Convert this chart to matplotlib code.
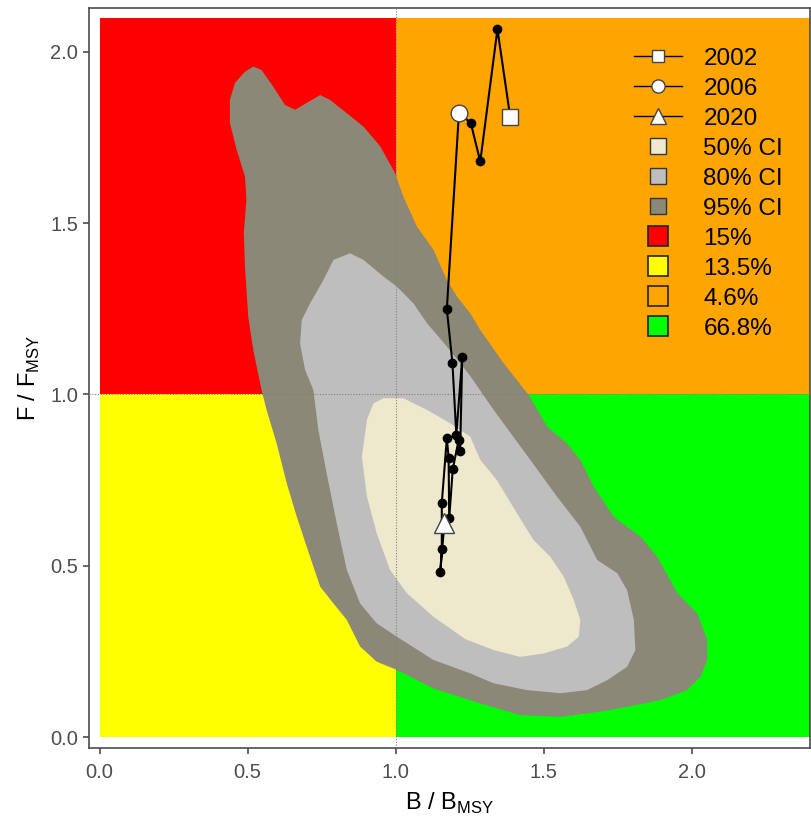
import matplotlib
matplotlib.use("Agg")
import matplotlib.pyplot as plt
from matplotlib.lines import Line2D

plt.rcParams['font.family'] = ['Liberation Sans', 'DejaVu Sans']

# trajectory, 2002-2020
years = list(range(2002, 2021))
b_ratio = [1.387, 1.344, 1.286, 1.254, 1.214, 1.173, 1.192, 1.205, 1.225, 1.218,
           1.213, 1.193, 1.181, 1.179, 1.173, 1.156, 1.156, 1.151, 1.165]
f_ratio = [1.811, 2.066, 1.680, 1.792, 1.823, 1.249, 1.091, 0.882, 1.108, 0.836,
           0.867, 0.782, 0.638, 0.816, 0.872, 0.684, 0.548, 0.483, 0.626]

# confidence region outlines (B/Bmsy, F/Fmsy)
ci95_b = [0.519, 0.547, 0.586, 0.626, 0.660, 0.688, 0.745, 0.778, 0.835, 0.891,
          0.948, 0.998, 1.026, 1.072, 1.128, 1.173, 1.207, 1.252, 1.286, 1.365,
          1.449, 1.512, 1.579, 1.624, 1.669, 1.737, 1.827, 1.884, 1.952, 2.019,
          2.053, 2.053, 2.030, 1.985, 1.895, 1.782, 1.692, 1.557, 1.421, 1.286,
          1.128, 1.004, 0.936, 0.880, 0.835, 0.790, 0.745, 0.711, 0.666, 0.632,
          0.598, 0.564, 0.547, 0.519, 0.502, 0.491, 0.487, 0.496, 0.491, 0.463,
          0.440, 0.440, 0.457, 0.491]
ci95_f = [1.957, 1.947, 1.899, 1.845, 1.831, 1.845, 1.874, 1.860, 1.821, 1.782,
          1.724, 1.646, 1.578, 1.490, 1.422, 1.334, 1.286, 1.237, 1.188, 1.091,
          0.999, 0.906, 0.857, 0.809, 0.731, 0.643, 0.585, 0.526, 0.420, 0.361,
          0.283, 0.225, 0.176, 0.137, 0.108, 0.088, 0.074, 0.059, 0.064, 0.098,
          0.142, 0.196, 0.220, 0.264, 0.342, 0.390, 0.439, 0.526, 0.643, 0.741,
          0.857, 0.955, 1.013, 1.130, 1.227, 1.373, 1.472, 1.568, 1.636, 1.714,
          1.793, 1.860, 1.909, 1.942]

ci80_b = [0.846, 0.891, 0.959, 1.004, 1.060, 1.106, 1.173, 1.252, 1.331, 1.455,
          1.545, 1.624, 1.681, 1.749, 1.782, 1.805, 1.810, 1.782, 1.715, 1.647,
          1.557, 1.444, 1.331, 1.252, 1.128, 1.004, 0.936, 0.880, 0.835, 0.801,
          0.767, 0.739, 0.722, 0.694, 0.677, 0.683, 0.711, 0.756, 0.790]
ci80_f = [1.412, 1.393, 1.344, 1.315, 1.266, 1.208, 1.140, 1.054, 0.955, 0.809,
          0.702, 0.614, 0.517, 0.478, 0.429, 0.342, 0.254, 0.205, 0.166, 0.137,
          0.128, 0.137, 0.157, 0.186, 0.225, 0.293, 0.332, 0.390, 0.488, 0.624,
          0.770, 0.896, 1.013, 1.072, 1.149, 1.218, 1.266, 1.334, 1.393]

ci50_b = [0.959, 1.026, 1.106, 1.184, 1.252, 1.286, 1.342, 1.410, 1.466, 1.523,
          1.568, 1.602, 1.624, 1.619, 1.579, 1.500, 1.421, 1.331, 1.235, 1.128,
          1.038, 0.981, 0.936, 0.903, 0.886, 0.903, 0.925]
ci50_f = [0.989, 0.989, 0.955, 0.916, 0.877, 0.809, 0.750, 0.653, 0.575, 0.526,
          0.468, 0.400, 0.342, 0.293, 0.264, 0.244, 0.234, 0.254, 0.286, 0.351,
          0.420, 0.488, 0.595, 0.702, 0.818, 0.926, 0.974]

# quadrant probabilities: red, yellow, orange, green
quad_labels = ["15%", "13.5%", "4.6%", "66.8%"]
quad_colors = ["red", "yellow", "orange", "lime"]
ci_labels = ["50% CI", "80% CI", "95% CI"]
ci_colors = ["#EEE8CD", "#BEBEBE", "#8B8878"]

bmax, fmax = 2.4, 2.1

fig = plt.figure(figsize=(8.12, 8.16), dpi=100)
ax = fig.add_axes([0.110, 0.0833, 0.8875, 0.9073])

# Kobe quadrants
ax.fill_between([0, 1], 0, 1, color=quad_colors[1], lw=0, zorder=0)
ax.fill_between([0, 1], 1, fmax, color=quad_colors[0], lw=0, zorder=0)
ax.fill_between([1, bmax], 1, fmax, color=quad_colors[2], lw=0, zorder=0)
ax.fill_between([1, bmax], 0, 1, color=quad_colors[3], lw=0, zorder=0)

ax.fill(ci95_b, ci95_f, color=ci_colors[2], lw=0, zorder=1)
ax.fill(ci80_b, ci80_f, color=ci_colors[1], lw=0, zorder=2)
ax.fill(ci50_b, ci50_f, color=ci_colors[0], lw=0, zorder=3)

ax.axhline(1, color="#808080", ls=(0, (1, 1.5)), lw=0.8, zorder=4)
ax.axvline(1, color="#808080", ls=(0, (1, 1.5)), lw=0.8, zorder=4)

ax.plot(b_ratio, f_ratio, color="black", lw=1.5, marker="o", ms=6, zorder=5)
ax.plot(b_ratio[0], f_ratio[0], marker="s", ms=11, mfc="white", mec="#444444", mew=1, ls="none", zorder=6)
i06 = years.index(2006)
ax.plot(b_ratio[i06], f_ratio[i06], marker="o", ms=12, mfc="white", mec="#444444", mew=1, ls="none", zorder=6)
ax.plot(b_ratio[-1], f_ratio[-1], marker="^", ms=14, mfc="white", mec="#444444", mew=1, ls="none", zorder=6)

handles = [
    Line2D([], [], color="black", lw=1, marker="s", ms=8.5, mfc="white", mec="#444444"),
    Line2D([], [], color="black", lw=1, marker="o", ms=9.5, mfc="white", mec="#444444"),
    Line2D([], [], color="black", lw=1, marker="^", ms=11, mfc="white", mec="#444444"),
]
for c in ci_colors:
    handles.append(Line2D([], [], ls="none", marker="s", ms=12, mfc=c, mec="#333333", mew=1))
for c in quad_colors:
    handles.append(Line2D([], [], ls="none", marker="s", ms=15, mfc=c, mec="#222222", mew=1.2))
labels = ["2002", "2006", "2020"] + ci_labels + quad_labels
ax.legend(handles, labels, loc="upper left", bbox_to_anchor=(0.756, 0.946),
          frameon=False, fontsize=17.5, handlelength=1.95, handletextpad=0.9,
          labelspacing=0.33, borderpad=0, borderaxespad=0)

ax.set_xlim(-0.035, 2.40)
ax.set_ylim(-0.032, 2.129)
ax.set_xticks([0, 0.5, 1.0, 1.5, 2.0])
ax.set_yticks([0, 0.5, 1.0, 1.5, 2.0])
ax.set_xticklabels(["0.0", "0.5", "1.0", "1.5", "2.0"])
ax.set_yticklabels(["0.0", "0.5", "1.0", "1.5", "2.0"])
ax.tick_params(labelsize=14.5, colors="#4D4D4D", length=4, width=1.2, labelcolor="#4D4D4D", pad=4)
ax.tick_params(axis="x", pad=7)
for s in ax.spines.values():
    s.set_color("#4D4D4D")
    s.set_linewidth(1.2)
ax.set_xlabel(r"B / B$_{\mathregular{MSY}}$", fontsize=17, labelpad=6)
ax.set_ylabel(r"F / F$_{\mathregular{MSY}}$", fontsize=17, labelpad=6)

fig.savefig("out.png", dpi=100)
